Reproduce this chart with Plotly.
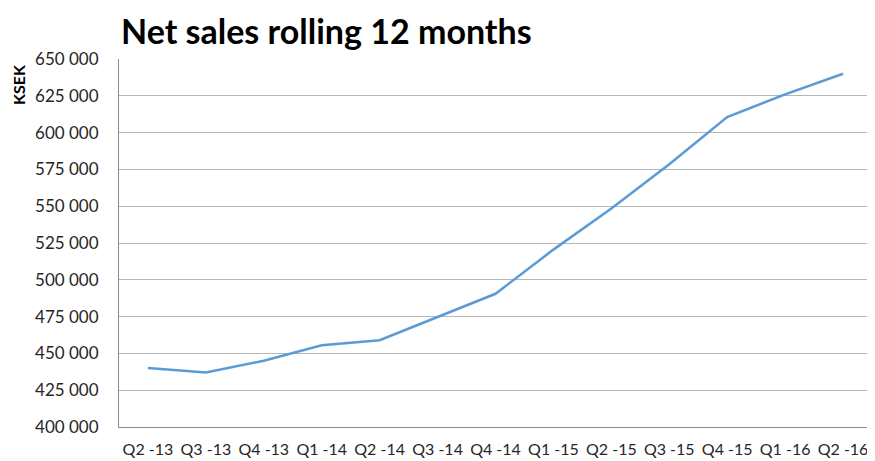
import plotly.graph_objects as go

quarters = ["Q2 -13", "Q3 -13", "Q4 -13", "Q1 -14", "Q2 -14", "Q3 -14", "Q4 -14",
            "Q1 -15", "Q2 -15", "Q3 -15", "Q4 -15", "Q1 -16", "Q2 -16"]
net_sales = [440000, 437000, 445000, 455500, 459000, 474500, 490500,
             520500, 548500, 578500, 610500, 626000, 640000]
y_ticks = [400000, 425000, 450000, 475000, 500000, 525000, 550000, 575000, 600000, 625000, 650000]
y_tick_labels = ["400 000", "425 000", "450 000", "475 000", "500 000", "525 000",
                 "550 000", "575 000", "600 000", "625 000", "650 000"]

FONT = "Lato, 'Open Sans', sans-serif"
OFF = 8  # page body margin
W, H = 875 - OFF, 461 - OFF
ML, MR, MT, MB = 119 - OFF, 3 - 0, 59 - OFF, 34
# target plot area in screen px: x 119..872, y 59..427

fig = go.Figure()
fig.add_trace(go.Scatter(
    x=list(range(len(quarters))), y=net_sales, mode="lines",
    line=dict(color="#5B9BD5", width=2.5),
    showlegend=False, hoverinfo="skip",
))

pw = W - ML - MR
ph = H - MT - MB

fig.update_layout(
    width=W, height=H,
    margin=dict(l=ML, r=MR, t=MT, b=MB, autoexpand=False),
    paper_bgcolor="white", plot_bgcolor="white",
    font=dict(family=FONT, size=15, color="#262626"),
    title=dict(text="<b>Net sales rolling 12 months</b>", x=(121 - OFF) / W, xanchor="left",
               y=1 - (32 - OFF) / H, yanchor="middle",
               font=dict(family=FONT, size=34, color="black")),
    xaxis=dict(
        tickmode="array", tickvals=list(range(len(quarters))), ticktext=quarters,
        range=[-0.5, len(quarters) - 0.5],
        showgrid=False, zeroline=False, automargin=False,
        showline=True, linecolor="#8C8C8C", linewidth=1,
        ticks="", ticklabelstandoff=8, tickfont=dict(size=16, color="#262626"),
    ),
    yaxis=dict(
        tickmode="array", tickvals=y_ticks, ticktext=y_tick_labels,
        range=[400000, 650000], automargin=False,
        showgrid=True, gridcolor="#B7B7B7", gridwidth=1,
        zeroline=False, showline=True, linecolor="#8C8C8C", linewidth=1,
        ticks="", ticklabelstandoff=16,
        tickfont=dict(size=17, color="#262626"),
    ),
    annotations=[dict(
        text="<b>KSEK</b>", textangle=-90,
        x=(18 - 119) / pw, y=(427 - 85) / ph,
        xref="paper", yref="paper", showarrow=False,
        xanchor="center", yanchor="middle",
        font=dict(family=FONT, size=16, color="black"),
    )],
)

fig.write_html("out.html")
